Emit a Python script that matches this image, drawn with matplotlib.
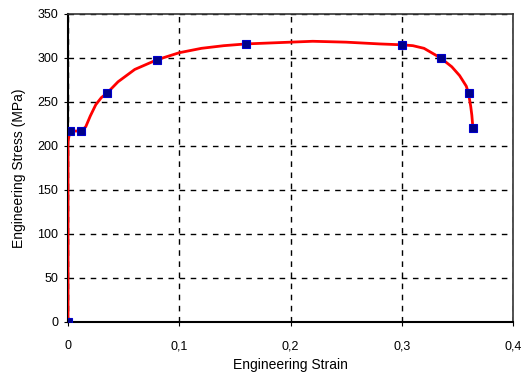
import matplotlib
matplotlib.use("Agg")
import matplotlib.pyplot as plt
from matplotlib.ticker import FuncFormatter

plt.rcParams['font.family'] = ['Liberation Sans', 'DejaVu Sans']

# Marker data points
strain_pts = [0.0, 0.002, 0.012, 0.035, 0.08, 0.16, 0.30, 0.335, 0.36, 0.364]
stress_pts = [0, 217, 217, 260, 298, 316, 315, 300, 260, 220]

# Curve
strain_curve = [0.0, 0.0, 0.001, 0.002, 0.012, 0.016, 0.02, 0.025, 0.03, 0.035, 0.045,
                0.06, 0.08, 0.1, 0.12, 0.14, 0.16, 0.2, 0.22, 0.25, 0.28, 0.30,
                0.31, 0.32, 0.335, 0.345, 0.352, 0.358, 0.36, 0.362, 0.363, 0.364]
stress_curve = [0, 205, 212, 217, 217, 222, 234, 247, 255, 260, 273,
                287, 298, 306, 311, 314, 316, 318, 319, 318, 316, 315,
                314, 311, 300, 290, 280, 268, 260, 245, 235, 220]

x_ticks = [0, 0.1, 0.2, 0.3, 0.4]
y_ticks = [0, 50, 100, 150, 200, 250, 300, 350]

fig = plt.figure(figsize=(5.24, 3.74), dpi=100)
ax = fig.add_axes([68/524, 1 - 322/374, (513-68)/524, (322-14)/374])

ax.plot(strain_curve, stress_curve, color='#ff0000', lw=2, zorder=3)
ax.plot(strain_pts, stress_pts, ls='none', marker='s', ms=6, mfc='#00008b',
        mec='#0000cc', mew=0.8, zorder=4)

ax.set_xlim(0, 0.4)
ax.set_ylim(0, 350)
ax.set_xticks(x_ticks)
ax.set_yticks(y_ticks)
ax.xaxis.set_major_formatter(FuncFormatter(lambda v, p: ('%g' % v).replace('.', ',')))
ax.grid(True, color='black', ls=(0, (4, 4)), lw=1)
ax.set_axisbelow(True)
ax.tick_params(labelsize=9, length=3, direction='out')
ax.tick_params(axis='x', pad=10)
ax.tick_params(axis='y', pad=4)
for s in ['left', 'bottom']:
    ax.spines[s].set_linewidth(1.5)
for s in ['top', 'right']:
    ax.spines[s].set_linewidth(1.2)
    ax.spines[s].set_color('#333333')
ax.set_xlabel('Engineering Strain', fontsize=10, labelpad=4)
ax.set_ylabel('Engineering Stress (MPa)', fontsize=10, labelpad=8)

fig.savefig('out.png', dpi=100)
